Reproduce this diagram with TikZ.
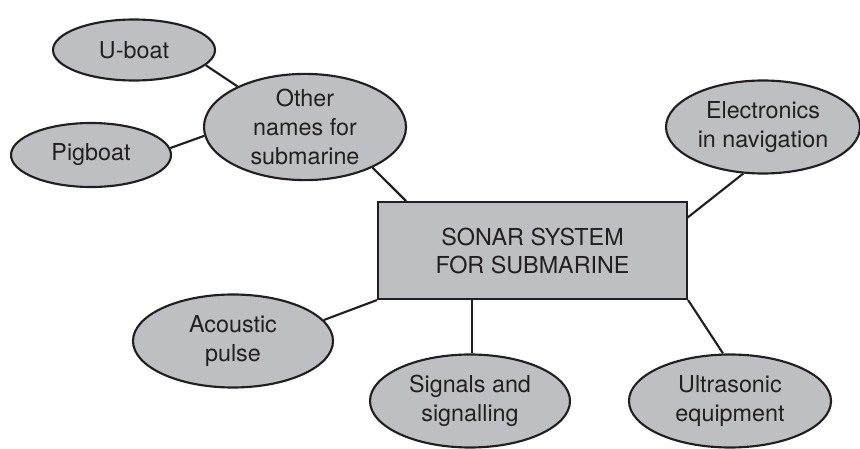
\documentclass[tikz,border=0pt]{standalone}
\usepackage{fontspec}
\setmainfont{TeX Gyre Heros}
\usetikzlibrary{shapes.geometric}
\definecolor{boxfill}{RGB}{190,191,194}
\definecolor{ink}{RGB}{35,31,32}
\begin{document}
\begin{tikzpicture}[x=0.75pt,y=-0.75pt,
  bubble/.style 2 args={ellipse,draw=ink,fill=boxfill,line width=1.6pt,inner sep=0pt,
    minimum width=#1*0.75pt,minimum height=#2*0.75pt,align=center,
    font=\fontsize{17.5}{21.5}\selectfont,text=ink},
  centrebox/.style={rectangle,draw=ink,fill=boxfill,line width=1.6pt,inner sep=0pt,
    minimum width=309*0.75pt,minimum height=97*0.75pt,align=center,
    font=\fontsize{17.5}{21}\selectfont,text=ink},
  link/.style={draw=ink,line width=1.6pt}]
\useasboundingbox (0,0) rectangle (860,449);
\node[bubble={162}{61}] (uboat) at (134,50) {U-boat};
\node[bubble={160}{64}] (pig) at (91,155) {Pigboat};
\node[bubble={202}{93}] (other) at (305,127) {Other\\names for\\submarine};
\node[bubble={194}{93}] (elec) at (763,127) {Electronics\\in navigation};
\node[centrebox] (sonar) at (532.5,250.5) {SONAR SYSTEM\\FOR SUBMARINE};
\node[bubble={200}{93}] (acou) at (233,341) {Acoustic\\pulse};
\node[bubble={200}{93}] (sig) at (470,401) {Signals and\\signalling};
\node[bubble={202}{93}] (ultra) at (730,401) {Ultrasonic\\equipment};
\coordinate (otherend) at (406,201);
\coordinate (elecend) at (687,218);
\coordinate (sigtop) at (472,299);
\draw[link] (uboat.-12) -- (other.149);
\draw[link] (pig.5) -- (other.185);
\draw[link] (other.-31) -- (otherend);
\draw[link] (elec.-113) -- (elecend);
\draw[link] (acou.13) -- (sonar.south west);
\draw[link] (sigtop) -- (sig.north -| sigtop);
\draw[link] (sonar.south east) -- (ultra.north -| 723,0);
\end{tikzpicture}
\end{document}
